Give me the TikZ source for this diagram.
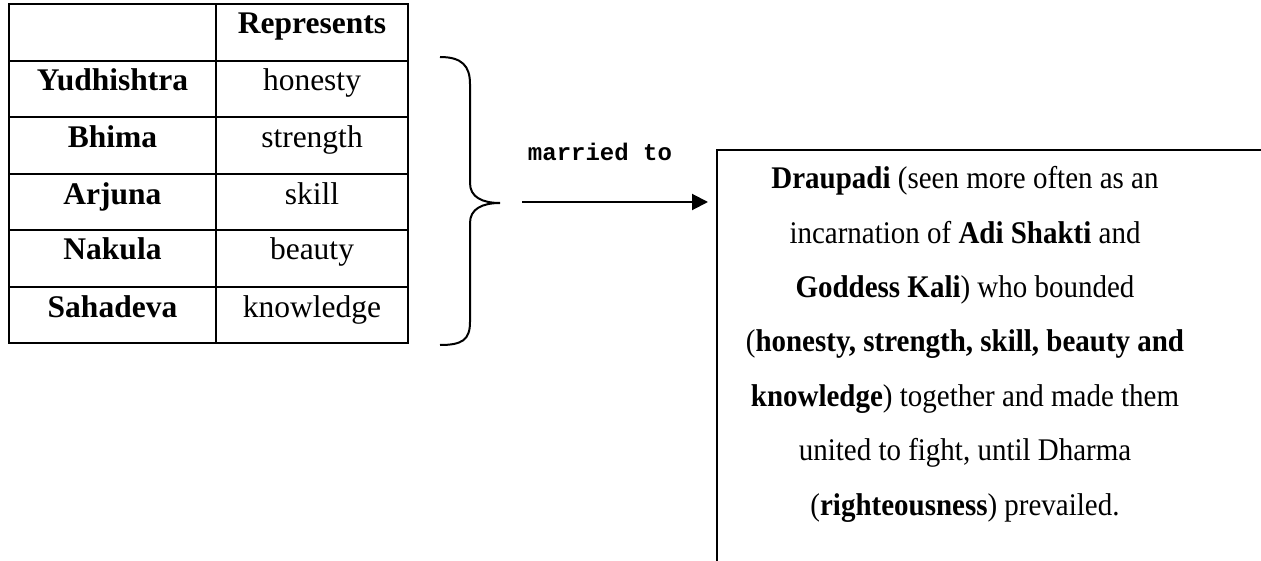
\documentclass[tikz,border=0pt]{standalone}
\usepackage{fontspec}
\setmainfont{Liberation Serif}
\setmonofont{Liberation Mono}
\newfontfamily\boxfont[FakeStretch=0.92]{Liberation Serif}
\usetikzlibrary{arrows.meta}

\begin{document}
\begin{tikzpicture}[x=1pt,y=-1pt,
  rule/.style={line width=2pt},
  cell/.style={anchor=base,inner sep=0pt,font=\fontsize{31.5}{36}\selectfont},
  namecell/.style={anchor=base,inner sep=0pt,font=\fontsize{31.5}{36}\selectfont\bfseries},
  boxline/.style={anchor=base,inner sep=0pt,font=\boxfont\fontsize{31.5}{40}\selectfont},
  label/.style={anchor=base,inner sep=0pt,font=\fontsize{24}{28}\selectfont\ttfamily\bfseries},
  link/.style={line width=2pt,-{Triangle[length=16pt,width=16pt]}}]

\useasboundingbox (0,0) rectangle (1261,561);

% table grid
\draw[rule] (9,4) rectangle (408,343);
\draw[rule] (216,4) -- (216,343);
\foreach \y in {61,117,174,230,287} \draw[rule] (9,\y) -- (408,\y);

% table contents
\node[namecell] (head) at (312,34) {Represents};
\node[namecell] (n1) at (112.5,91)  {Yudhishtra};
\node[cell]     (v1) at (312,91)    {honesty};
\node[namecell] (n2) at (112.5,148) {Bhima};
\node[cell]     (v2) at (312,148)   {strength};
\node[namecell] (n3) at (112.5,205) {Arjuna};
\node[cell]     (v3) at (312,205)   {skill};
\node[namecell] (n4) at (112.5,260) {Nakula};
\node[cell]     (v4) at (312,260)   {beauty};
\node[namecell] (n5) at (112.5,317) {Sahadeva};
\node[cell]     (v5) at (312,317)   {knowledge};

% curly brace grouping the five rows
\coordinate (braceTip) at (500,203);
\draw[rule] (440,57) .. controls (462,57) and (470,66) .. (470,84)
  -- (470,183) .. controls (470,197) and (482,203) .. (braceTip)
  .. controls (482,203) and (470,209) .. (470,223)
  -- (470,322) .. controls (470,340) and (462,345) .. (440,345);

% arrow with its label
\coordinate (arrowStart) at (522,202);
\coordinate (arrowEnd) at (708,202);
\draw[link] (arrowStart) -- (arrowEnd);
\node[label] (married) at (600,161) {married to};

% open box (top and left sides)
\coordinate (boxTL) at (717,150);
\draw[rule] (717,561) -- (boxTL) -- (1261,150);

% box text
\node[boxline] (t1) at (965,189)   {\textbf{Draupadi} (seen more often as an};
\node[boxline] (t2) at (965,243.3) {incarnation of \textbf{Adi Shakti} and};
\node[boxline] (t3) at (965,297.6) {\textbf{Goddess Kali}) who bounded};
\node[boxline] (t4) at (965,351.9) {(\textbf{honesty, strength, skill, beauty and}};
\node[boxline] (t5) at (965,406.2) {\textbf{knowledge}) together and made them};
\node[boxline] (t6) at (965,460.5) {united to fight, until Dharma};
\node[boxline] (t7) at (965,515)   {(\textbf{righteousness}) prevailed.};
\end{tikzpicture}
\end{document}
